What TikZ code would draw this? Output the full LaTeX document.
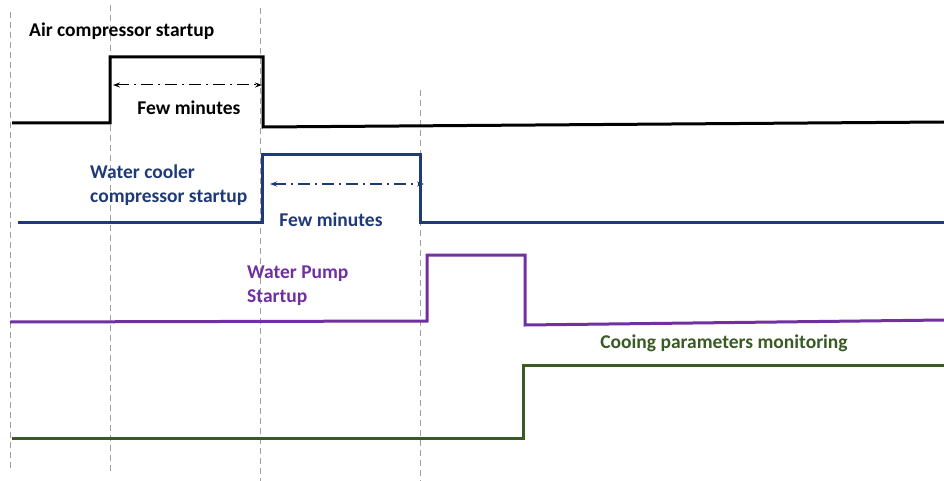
\documentclass[tikz,border=0pt]{standalone}
\usepackage{fontspec}
\setmainfont{Carlito}
\usetikzlibrary{arrows.meta}
\definecolor{AIRblack}{HTML}{000000}
\definecolor{COOLERblue}{HTML}{1F3A78}
\definecolor{PUMPpurple}{HTML}{7030A0}
\definecolor{MONgreen}{HTML}{3A5A24}
\definecolor{GRIDgray}{HTML}{A0A0A0}
\tikzstyle{signal} = [line width=3pt, line join=miter]
\tikzstyle{marker} = [draw=GRIDgray, line width=0.8pt, dash pattern=on 6pt off 4pt]
\tikzstyle{span} = [line width=1pt, dash pattern=on 12pt off 5pt on 2pt off 5pt,
{Stealth[length=7pt,width=5pt]}-{Stealth[length=7pt,width=5pt]}]
\tikzstyle{label} = [font=\bfseries\fontsize{19.5}{24}\selectfont, inner sep=0pt]
\tikzstyle{twoline} = [label, align=left, anchor=north west]

\begin{document}
\begin{tikzpicture}[x=1pt, y=-1pt]
                \useasboundingbox (0,0) rectangle (944,481);

                % time markers
                \draw[marker] (10,12) -- (10,468);
                \draw[marker] (110,5) -- (110,475);
                \draw[marker] (260,8) -- (260,481);
                \draw[marker] (420,90) -- (420,481);

                % air compressor
                \draw[signal, AIRblack] (12,123) -- (110,123) -- (110,57) -- (263,57) -- (263,127) -- (944,122);
                \node[label, anchor=west] (air) at (29,31) {Air compressor startup};
                \coordinate (airA) at (113,85);
                \coordinate (airB) at (262,85);
                \draw[span, AIRblack] (airA) -- (airB);
                \node[label] (airfew) at (189,108) {Few minutes};

                % water cooler compressor
                \draw[signal, COOLERblue] (18,222) -- (262,222) -- (262,155) -- (420,155) -- (420,222) -- (944,222);
                \node[twoline, COOLERblue] (cooler) at (90,165) {Water cooler\\compressor startup};
                \coordinate (coolA) at (270,184);
                \coordinate (coolB) at (424,184);
                \draw[span, COOLERblue] (coolA) -- (coolB);
                \node[label, COOLERblue] (coolfew) at (331,220) {Few minutes};

                % water pump
                \draw[signal, PUMPpurple] (10,322) -- (427,321) -- (427,255) -- (525,255) -- (525,325) -- (944,320);
                \node[twoline, PUMPpurple] (pump) at (247,266) {Water Pump\\Startup};

                % monitoring
                \draw[signal, MONgreen] (12,438) -- (523,438) -- (523,365) -- (944,365);
                \node[label, MONgreen] (mon) at (724,343) {Cooing parameters monitoring};
            \end{tikzpicture}
\end{document}
